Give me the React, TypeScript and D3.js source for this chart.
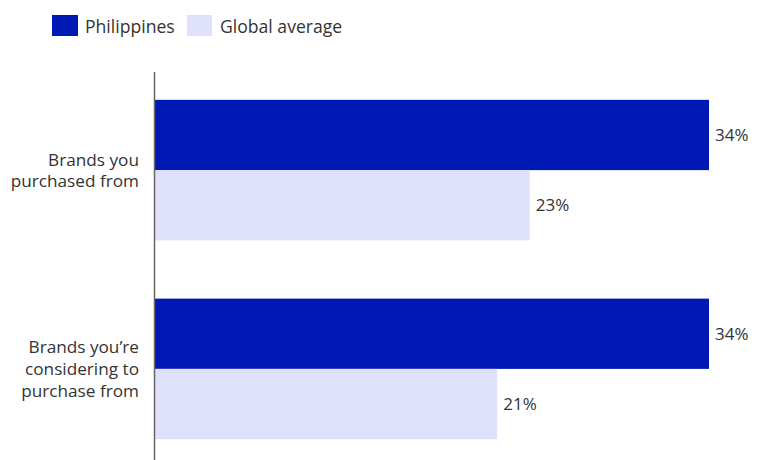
import React from "react";
import * as d3 from "d3";

const categories = ["Brands you purchased from", "Brands you’re considering to purchase from"];
const categoryLines = [["Brands you", "purchased from"], ["Brands you’re", "considering to", "purchase from"]];
const seriesNames = ["Philippines", "Global average"];
const philippines = [34, 34];
const globalAverage = [23, 21];
const colors = ["#0019b5", "#dfe0fc"];

const W = 761;
const H = 460;
const FONT = "'Open Sans', 'Noto Sans', sans-serif";

export default function App() {
  const x0 = 155;
  const x = d3.scaleLinear().domain([0, 34]).range([x0, 709]);
  const y = d3.scaleBand<string>().domain(categories).range([72, 467]).paddingInner(0.293).paddingOuter(0.14);
  const sub = d3.scaleBand<string>().domain(seriesNames).range([0, y.bandwidth()]);
  const series = [philippines, globalAverage];

  return (
    <svg width={W} height={H} style={{ position: "absolute", left: 0, top: 0 }} fontFamily={FONT}>
      <rect width={W} height={H} fill="#fff" />
      {/* legend */}
      <g>
        <rect x={52} y={15} width={26} height={21} fill={colors[0]} />
        <text x={85} y={33} fontSize={17.6} fill="#333">{seriesNames[0]}</text>
        <rect x={187} y={15} width={25} height={21} fill={colors[1]} />
        <text x={220} y={33} fontSize={17.6} fill="#333">{seriesNames[1]}</text>
      </g>
      {/* bars */}
      {categories.map((c, i) => (
        <g key={c}>
          {series.map((s, j) => {
            const yy = (y(c) ?? 0) + (sub(seriesNames[j]) ?? 0);
            const h = sub.bandwidth();
            return (
              <g key={j}>
                <rect x={x(0)} y={yy} width={x(s[i]) - x(0)} height={h} fill={colors[j]} />
                <text x={x(s[i]) + 6} y={yy + h / 2} dy="0.35em" fontSize={17} fill="#333">{s[i]}%</text>
              </g>
            );
          })}
          {categoryLines[i].map((line, k) => {
            const n = categoryLines[i].length;
            const cy = (y(c) ?? 0) + y.bandwidth() / 2;
            const lh = n === 2 ? 21 : 22;
            return (
              <text key={k} x={139} y={cy + (k - (n - 1) / 2) * lh} dy="0.35em" textAnchor="end" fontSize={17.2} fill="#333">{line}</text>
            );
          })}
        </g>
      ))}
      {/* axis */}
      <line x1={154.5} x2={154.5} y1={72} y2={467} stroke="#666" strokeWidth={1.5} />
    </svg>
  );
}
